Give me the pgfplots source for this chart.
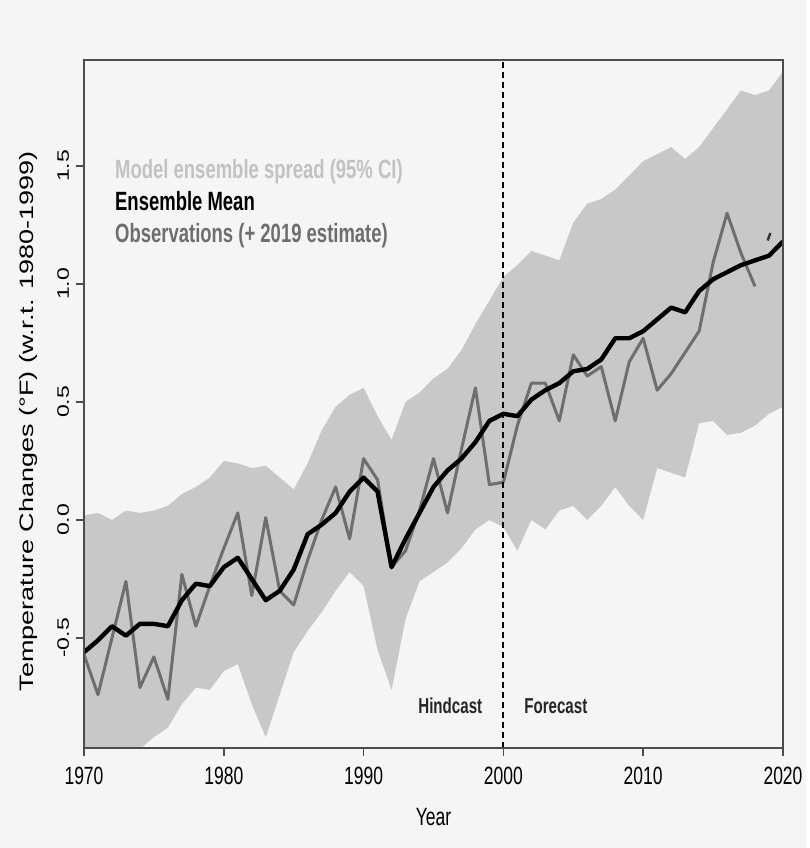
\documentclass[border=0pt]{standalone}
\usepackage{fontspec}
\setmainfont{Liberation Sans}
\newfontfamily\narrowfont{Liberation Sans}[FakeStretch=0.7]
\usepackage{graphicx}
\usepackage{pgfplots}
\pgfplotsset{compat=1.18}
\usepgfplotslibrary{fillbetween}

% model ensemble: 95% spread (lo, hi) and ensemble mean
\pgfplotstableread{
year lo hi mean
1970 -1.05 0.02 -0.56
1971 -1.05 0.03 -0.51
1972 -1.05 0.00 -0.45
1973 -1.02 0.04 -0.49
1974 -0.97 0.03 -0.44
1975 -0.92 0.04 -0.44
1976 -0.88 0.06 -0.45
1977 -0.78 0.11 -0.34
1978 -0.71 0.14 -0.27
1979 -0.72 0.18 -0.28
1980 -0.64 0.25 -0.20
1981 -0.61 0.24 -0.16
1982 -0.78 0.22 -0.25
1983 -0.92 0.23 -0.34
1984 -0.74 0.18 -0.30
1985 -0.56 0.13 -0.21
1986 -0.47 0.24 -0.06
1987 -0.39 0.38 -0.02
1988 -0.30 0.48 0.03
1989 -0.22 0.53 0.12
1990 -0.28 0.56 0.18
1991 -0.55 0.44 0.12
1992 -0.72 0.34 -0.20
1993 -0.42 0.50 -0.08
1994 -0.26 0.54 0.03
1995 -0.22 0.60 0.14
1996 -0.18 0.64 0.21
1997 -0.12 0.72 0.26
1998 -0.04 0.83 0.33
1999 0.00 0.93 0.42
2000 -0.03 1.03 0.45
2001 -0.13 1.08 0.44
2002 0.00 1.14 0.51
2003 -0.04 1.12 0.55
2004 0.04 1.10 0.58
2005 0.06 1.26 0.63
2006 0.00 1.34 0.64
2007 0.06 1.36 0.68
2008 0.14 1.40 0.77
2009 0.06 1.46 0.77
2010 0.00 1.52 0.80
2011 0.22 1.55 0.85
2012 0.20 1.58 0.90
2013 0.18 1.53 0.88
2014 0.41 1.58 0.97
2015 0.42 1.66 1.02
2016 0.36 1.74 1.05
2017 0.37 1.82 1.08
2018 0.40 1.80 1.10
2019 0.45 1.82 1.12
2020 0.48 1.90 1.18
}\ensemble

% observed annual anomalies
\pgfplotstableread{
year obs
1970 -0.57
1971 -0.74
1972 -0.50
1973 -0.26
1974 -0.71
1975 -0.58
1976 -0.76
1977 -0.23
1978 -0.45
1979 -0.28
1980 -0.12
1981 0.03
1982 -0.32
1983 0.01
1984 -0.30
1985 -0.36
1986 -0.17
1987 0.00
1988 0.14
1989 -0.08
1990 0.26
1991 0.17
1992 -0.20
1993 -0.13
1994 0.04
1995 0.26
1996 0.03
1997 0.30
1998 0.56
1999 0.15
2000 0.16
2001 0.40
2002 0.58
2003 0.58
2004 0.42
2005 0.70
2006 0.61
2007 0.65
2008 0.42
2009 0.67
2010 0.77
2011 0.55
2012 0.62
2013 0.71
2014 0.80
2015 1.09
2016 1.30
2017 1.13
2018 0.99
}\observed

\definecolor{bandgray}{HTML}{C8C8C8}
\definecolor{obsgray}{HTML}{6E6E6E}
\definecolor{legendlight}{HTML}{C2C2C2}

\begin{document}
\begin{tikzpicture}
\fill[black!4] (-42pt,-50pt) rectangle (361pt,374pt);
\begin{axis}[
  at={(0,0)}, anchor=south west,
  scale only axis, width=349.5pt, height=344pt,
  xmin=1970, xmax=2020, ymin=-0.966, ymax=1.949,
  axis on top,
  fill between/on layer=main,
  axis line style={black!70, line width=1pt},
  xtick={1970,1980,...,2020},
  ytick={-0.5,0,0.5,1,1.5},
  xtick pos=lower, ytick pos=left,
  tick align=outside, major tick length=4pt,
  tick style={black!70, line width=0.8pt},
  /pgf/number format/1000 sep={},
  /pgf/number format/assume math mode=true,
  xticklabel style={font=\narrowfont\fontsize{12.5}{14}\selectfont, yshift=-2pt},
  yticklabel={\scalebox{1}[0.72]{\pgfmathprintnumber[fixed,fixed zerofill,precision=1]{\tick}}},
  yticklabel style={rotate=90, anchor=south, font=\fontsize{11.5}{13}\selectfont},
  xlabel={Year},
  xlabel shift=5pt,
  xlabel style={font=\narrowfont\fontsize{12.5}{14}\selectfont},
  ylabel={\scalebox{1}[0.72]{Temperature Changes (°F) (w.r.t. 1980-1999)}},
  ylabel shift=3pt,
  ylabel style={at={(ticklabel cs:0.475)}, font=\fontsize{13.5}{15}\selectfont},
]
\addplot[name path=hi, draw=none] table[x=year, y=hi] {\ensemble};
\addplot[name path=lo, draw=none] table[x=year, y=lo] {\ensemble};
\addplot[fill=bandgray, draw=none] fill between[of=hi and lo];

\addplot[obsgray, line width=1.5pt, line join=round] table[x=year, y=obs] {\observed};
\addplot[black, line width=2.2pt, line join=round] table[x=year, y=mean] {\ensemble};
% 2019 estimate
\addplot[only marks, mark=|, mark size=2pt, mark options={black!80, line width=1.2pt, rotate=-20}]
  coordinates {(2019,1.20)};

% hindcast / forecast divider
\addplot[black, line width=1pt, dash pattern=on 3pt off 2pt] coordinates {(2000,-0.966) (2000,1.949)};

\node[font=\narrowfont\bfseries\fontsize{10.8}{12}\selectfont, text=black!85]
  at (rel axis cs:0.524,0.061) {Hindcast};
\node[font=\narrowfont\bfseries\fontsize{10.8}{12}\selectfont, text=black!85]
  at (rel axis cs:0.675,0.061) {Forecast};

\node[anchor=north west, align=left, inner sep=0pt,
      font=\narrowfont\bfseries\fontsize{13.2}{16}\selectfont]
  at (rel axis cs:0.044,0.856)
  {\textcolor{legendlight}{Model ensemble spread (95\% CI)}\\
   \textcolor{black}{Ensemble Mean}\\
   \textcolor{obsgray}{Observations (+ 2019 estimate)}};
\end{axis}
\end{tikzpicture}
\end{document}
